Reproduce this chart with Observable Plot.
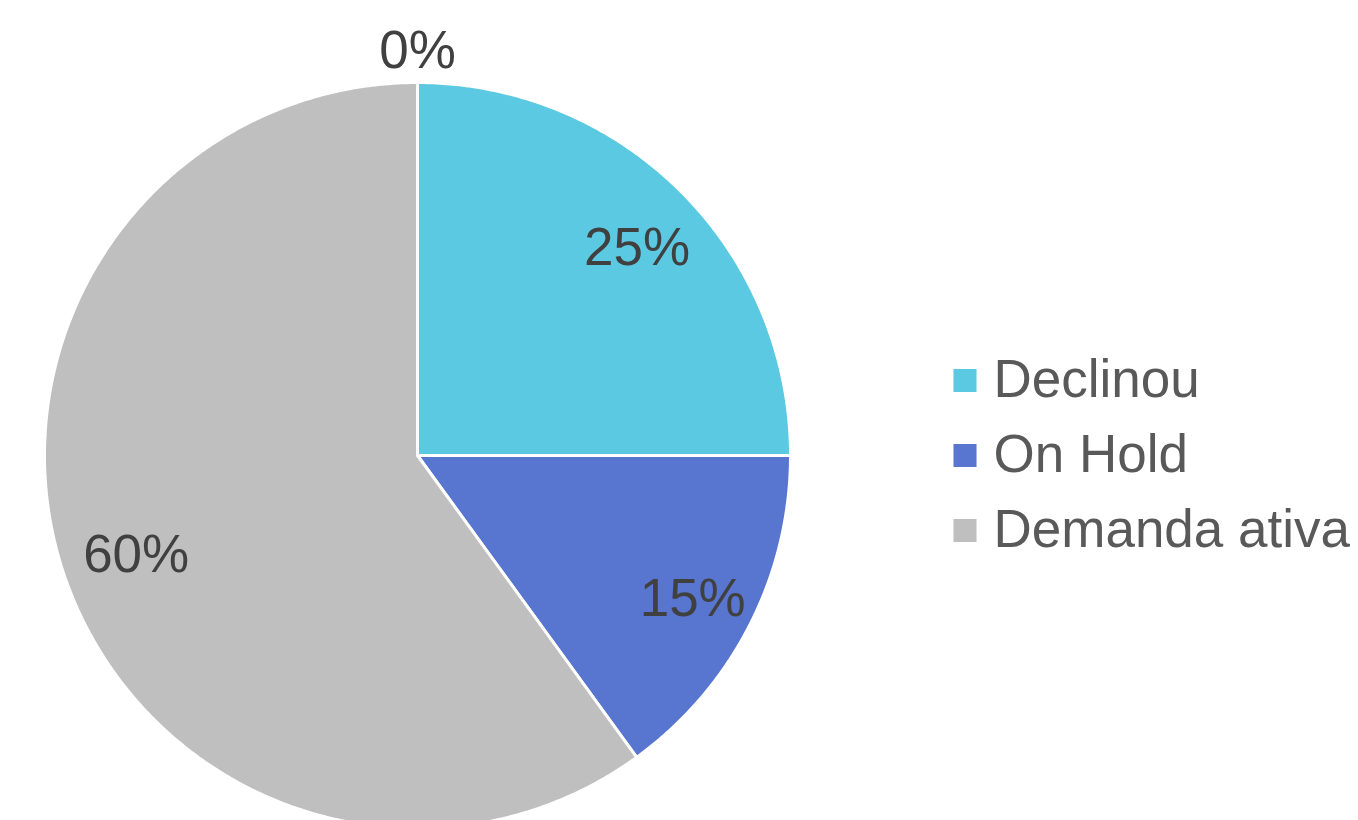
<!DOCTYPE html>
<html>
<head>
<meta charset="utf-8">
<script src="https://cdn.jsdelivr.net/npm/d3@7"></script>
<script src="https://cdn.jsdelivr.net/npm/@observablehq/plot@0.6"></script>
<style>
  html, body { margin: 0; padding: 0; background: #fff; }
  svg { display: block; }
</style>
</head>
<body>
<div id="chart"></div>
<script>
// ---- data ----
const categories = ["Declinou", "On Hold", "Demanda ativa", "Outro"];
const values = [25, 15, 60, 0];
const legendCategories = ["Declinou", "On Hold", "Demanda ativa"];
const colors = ["#5BC9E1", "#5875D0", "#BFBFBF", "#A5A5A5"];

// ---- layout (pixel units, mapped 1:1 through Plot scales) ----
const W = 1358, H = 820;
const cx = 417, cy = 455, r = 373;
const fontFamily = "'Liberation Sans', Arial, sans-serif";

const data = categories.map((c, i) => ({cat: c, value: values[i]}));
const total = d3.sum(values);
const arcs = d3.pie().sort(null).value(d => d.value)(data);

// build slice outlines from pie angles (angle 0 = top, clockwise)
const pt = (a, rad) => ({x: cx + rad * Math.sin(a), y: cy - rad * Math.cos(a)});
const slicePts = [];
arcs.forEach(a => {
  if (a.endAngle - a.startAngle <= 0) return;
  const cat = a.data.cat;
  slicePts.push({cat, ...pt(0, 0)});
  const n = Math.max(2, Math.ceil((a.endAngle - a.startAngle) / (Math.PI / 360)));
  for (let k = 0; k <= n; k++) {
    const ang = a.startAngle + (a.endAngle - a.startAngle) * k / n;
    slicePts.push({cat, ...pt(ang, r)});
  }
  slicePts.push({cat, ...pt(0, 0)});
});

const labels = arcs.map(a => {
  const mid = (a.startAngle + a.endAngle) / 2;
  const zero = a.endAngle - a.startAngle <= 0;
  const p = pt(zero ? 0 : mid, zero ? r * 1.085 : r * 0.81);
  return {label: Math.round(a.data.value / total * 100) + "%", x: p.x + (zero ? 0 : 6), y: p.y + (zero ? 0 : 6)};
});

const legendRows = legendCategories.map((c, i) => ({cat: c, x: 964.5, tx: 993, y: 380 + i * 75}));

const chart = Plot.plot({
  width: W,
  height: H,
  margin: 0,
  style: {fontFamily, background: "#fff"},
  x: {domain: [0, W], axis: null},
  y: {domain: [H, 0], axis: null},
  color: {domain: categories, range: colors},
  marks: [
    Plot.line(slicePts, {x: "x", y: "y", z: "cat", fill: "cat", stroke: "#fff", strokeWidth: 3, strokeLinejoin: "round", curve: "linear"}),
    Plot.text(labels, {x: "x", y: "y", text: "label", fontSize: 53, fill: "#404040", textAnchor: "middle", lineAnchor: "middle"}),
    Plot.dot(legendRows, {x: "x", y: "y", fill: "cat", symbol: "square", r: 13, stroke: null}),
    Plot.text(legendRows, {x: "tx", y: "y", text: "cat", fontSize: 53, fill: "#595959", textAnchor: "start", lineAnchor: "middle"})
  ]
});
document.getElementById("chart").appendChild(chart);
</script>
</body>
</html>
